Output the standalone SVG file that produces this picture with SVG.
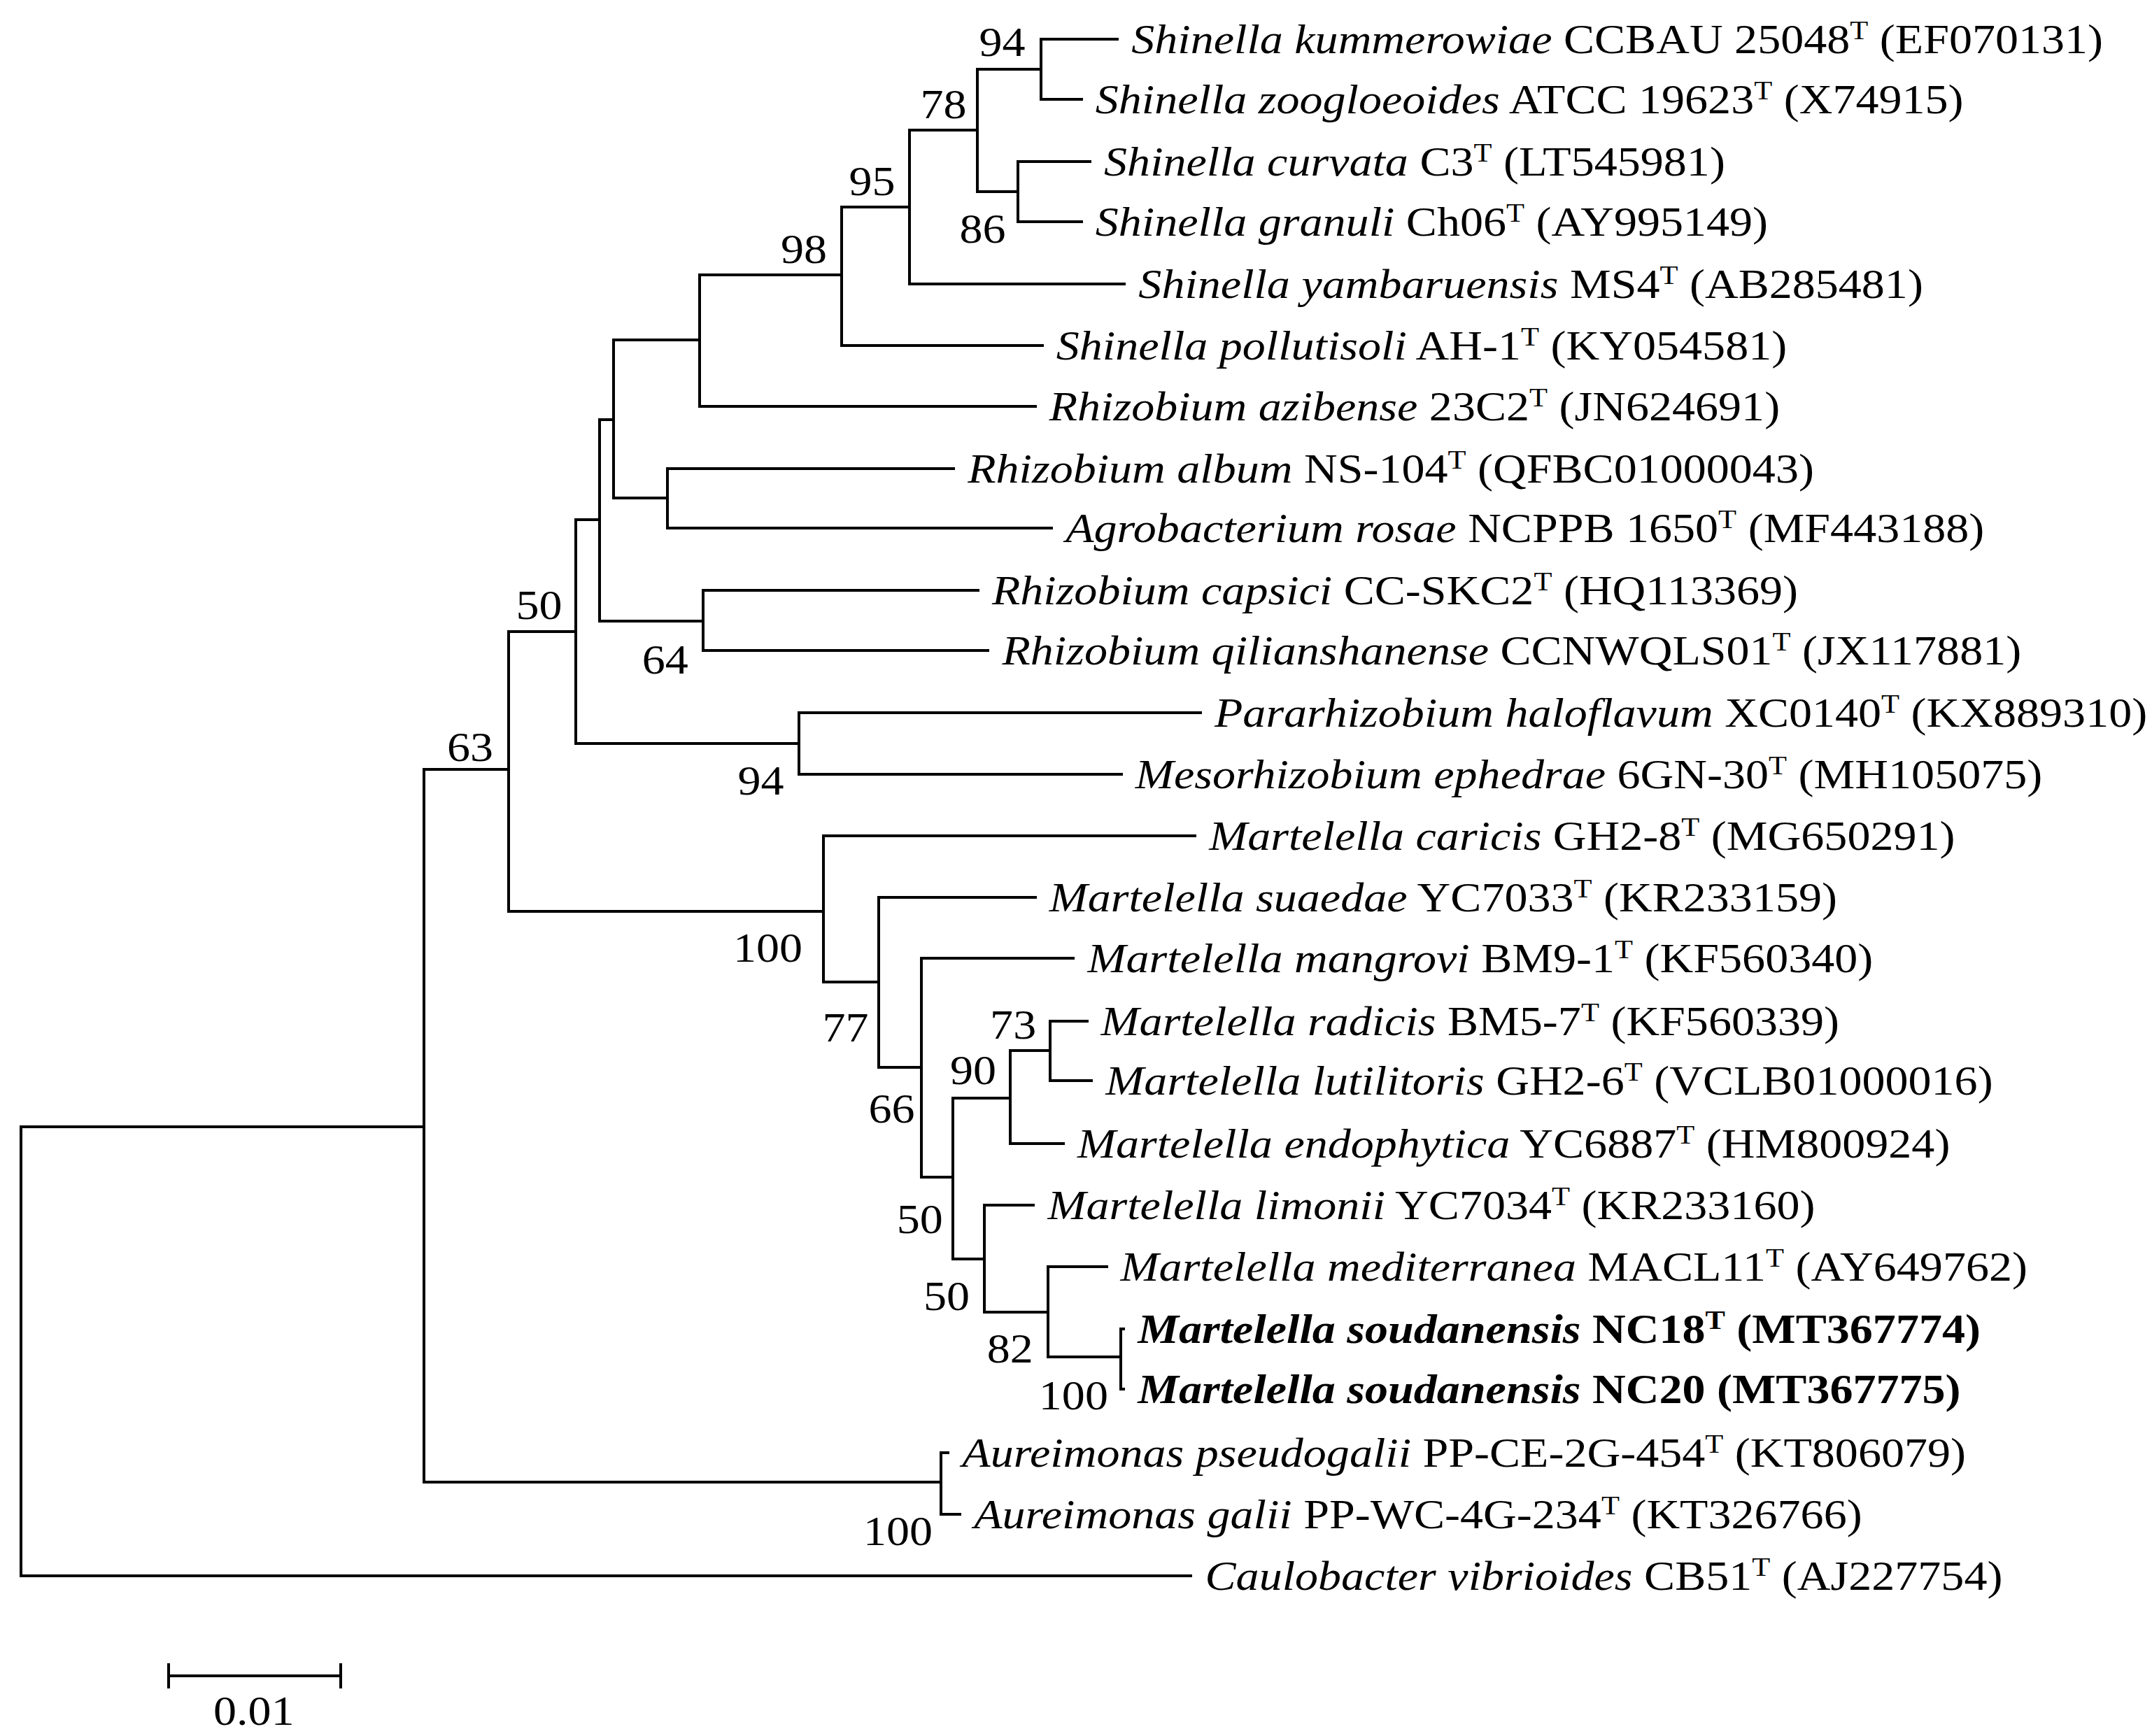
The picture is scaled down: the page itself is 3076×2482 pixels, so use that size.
<svg xmlns="http://www.w3.org/2000/svg" width="3076" height="2482" viewBox="0 0 3076 2482">
<style>
.b{fill:none;stroke:#000;stroke-width:4;stroke-linecap:square}
text{font-family:"Liberation Serif","Times New Roman",serif;font-size:59px;fill:#000}
.i{font-style:italic}
.bd{font-weight:bold}
.s{font-size:38px}
.m{text-anchor:middle}
</style>
<rect width="3076" height="2482" fill="#fff"/>
<g id="connectors">
<path class="b" d="M30,1611V2253H1702M30,1611H606M606,1100V2119M606,1100H727M606,2119H1345M1345,2077V2165M1345,2077H1355M1345,2165H1372
M727,903V1303M727,903H823M727,1303H1177
M823,743V1063M823,743H857M823,1063H1142M1142,1019V1107M1142,1019H1716M1142,1107H1603
M857,600V888M857,600H877M857,888H1005M1005,844V930M1005,844H1398M1005,930H1412
M877,486V712M877,486H1000M877,712H954M954,670V755M954,670H1363M954,755H1503
M1000,393V581M1000,393H1203M1000,581H1480
M1203,296V494M1203,296H1300M1203,494H1490
M1300,186V406M1300,186H1397M1300,406H1607
M1397,99V274M1397,99H1488M1397,274H1455
M1488,56V142M1488,56H1597M1488,142H1546
M1455,231V317M1455,231H1558M1455,317H1546
M1177,1195V1404M1177,1195H1708M1177,1404H1256
M1256,1283V1526M1256,1283H1480M1256,1526H1317
M1317,1370V1683M1317,1370H1534M1317,1683H1362
M1362,1570V1800M1362,1570H1444M1362,1800H1407
M1444,1502V1635M1444,1502H1501M1444,1635H1520
M1501,1460V1545M1501,1460H1554M1501,1545H1560
M1407,1723V1876M1407,1723H1477M1407,1876H1498
M1498,1811V1940M1498,1811H1582M1498,1940H1602
M1602,1900V1986M1602,1900H1606M1602,1986H1606
M241,2396H487M241,2380V2412M487,2380V2412"/>
</g>
<g transform="scale(1.12,1)">
<g id="leaves">
<text x="1444" y="76"><tspan class="i">Shinella kummerowiae</tspan> CCBAU 25048<tspan class="s" dy="-20">T</tspan><tspan dy="20"> (EF070131)</tspan></text>
<text x="1398" y="162"><tspan class="i">Shinella zoogloeoides</tspan> ATCC 19623<tspan class="s" dy="-20">T</tspan><tspan dy="20"> (X74915)</tspan></text>
<text x="1409" y="251"><tspan class="i">Shinella curvata</tspan> C3<tspan class="s" dy="-20">T</tspan><tspan dy="20"> (LT545981)</tspan></text>
<text x="1398" y="337"><tspan class="i">Shinella granuli</tspan> Ch06<tspan class="s" dy="-20">T</tspan><tspan dy="20"> (AY995149)</tspan></text>
<text x="1453" y="426"><tspan class="i">Shinella yambaruensis</tspan> MS4<tspan class="s" dy="-20">T</tspan><tspan dy="20"> (AB285481)</tspan></text>
<text x="1348" y="514"><tspan class="i">Shinella pollutisoli</tspan> AH-1<tspan class="s" dy="-20">T</tspan><tspan dy="20"> (KY054581)</tspan></text>
<text x="1339" y="601"><tspan class="i">Rhizobium azibense</tspan> 23C2<tspan class="s" dy="-20">T</tspan><tspan dy="20"> (JN624691)</tspan></text>
<text x="1235" y="690"><tspan class="i">Rhizobium album</tspan> NS-104<tspan class="s" dy="-20">T</tspan><tspan dy="20"> (QFBC01000043)</tspan></text>
<text x="1360" y="775"><tspan class="i">Agrobacterium rosae</tspan> NCPPB 1650<tspan class="s" dy="-20">T</tspan><tspan dy="20"> (MF443188)</tspan></text>
<text x="1266" y="864"><tspan class="i">Rhizobium capsici</tspan> CC-SKC2<tspan class="s" dy="-20">T</tspan><tspan dy="20"> (HQ113369)</tspan></text>
<text x="1279" y="950"><tspan class="i">Rhizobium qilianshanense</tspan> CCNWQLS01<tspan class="s" dy="-20">T</tspan><tspan dy="20"> (JX117881)</tspan></text>
<text x="1550" y="1039"><tspan class="i">Pararhizobium haloflavum</tspan> XC0140<tspan class="s" dy="-20">T</tspan><tspan dy="20"> (KX889310)</tspan></text>
<text x="1449" y="1127"><tspan class="i">Mesorhizobium ephedrae</tspan> 6GN-30<tspan class="s" dy="-20">T</tspan><tspan dy="20"> (MH105075)</tspan></text>
<text x="1543" y="1215"><tspan class="i">Martelella caricis</tspan> GH2-8<tspan class="s" dy="-20">T</tspan><tspan dy="20"> (MG650291)</tspan></text>
<text x="1339" y="1303"><tspan class="i">Martelella suaedae</tspan> YC7033<tspan class="s" dy="-20">T</tspan><tspan dy="20"> (KR233159)</tspan></text>
<text x="1388" y="1390"><tspan class="i">Martelella mangrovi</tspan> BM9-1<tspan class="s" dy="-20">T</tspan><tspan dy="20"> (KF560340)</tspan></text>
<text x="1405" y="1480"><tspan class="i">Martelella radicis</tspan> BM5-7<tspan class="s" dy="-20">T</tspan><tspan dy="20"> (KF560339)</tspan></text>
<text x="1411" y="1565"><tspan class="i">Martelella lutilitoris</tspan> GH2-6<tspan class="s" dy="-20">T</tspan><tspan dy="20"> (VCLB01000016)</tspan></text>
<text x="1375" y="1655"><tspan class="i">Martelella endophytica</tspan> YC6887<tspan class="s" dy="-20">T</tspan><tspan dy="20"> (HM800924)</tspan></text>
<text x="1337" y="1743"><tspan class="i">Martelella limonii</tspan> YC7034<tspan class="s" dy="-20">T</tspan><tspan dy="20"> (KR233160)</tspan></text>
<text x="1430" y="1831"><tspan class="i">Martelella mediterranea</tspan> MACL11<tspan class="s" dy="-20">T</tspan><tspan dy="20"> (AY649762)</tspan></text>
<text x="1452" y="1920" class="bd"><tspan class="i">Martelella soudanensis</tspan> NC18<tspan class="s" dy="-20">T</tspan><tspan dy="20"> (MT367774)</tspan></text>
<text x="1452" y="2006" class="bd"><tspan class="i">Martelella soudanensis</tspan> NC20 (MT367775)</text>
<text x="1228" y="2097"><tspan class="i">Aureimonas pseudogalii</tspan> PP-CE-2G-454<tspan class="s" dy="-20">T</tspan><tspan dy="20"> (KT806079)</tspan></text>
<text x="1243" y="2185"><tspan class="i">Aureimonas galii</tspan> PP-WC-4G-234<tspan class="s" dy="-20">T</tspan><tspan dy="20"> (KT326766)</tspan></text>
<text x="1538" y="2273"><tspan class="i">Caulobacter vibrioides</tspan> CB51<tspan class="s" dy="-20">T</tspan><tspan dy="20"> (AJ227754)</tspan></text>
</g>
<g id="bootstrap" class="m">
<text class="m" x="1279" y="80">94</text>
<text class="m" x="1204" y="169">78</text>
<text class="m" x="1254" y="347">86</text>
<text class="m" x="1113" y="279">95</text>
<text class="m" x="1026" y="376">98</text>
<text class="m" x="688" y="885">50</text>
<text class="m" x="849" y="963">64</text>
<text class="m" x="971" y="1136">94</text>
<text class="m" x="600" y="1088">63</text>
<text class="m" x="980" y="1375">100</text>
<text class="m" x="1079" y="1489">77</text>
<text class="m" x="1138" y="1605">66</text>
<text class="m" x="1174" y="1763">50</text>
<text class="m" x="1293" y="1485">73</text>
<text class="m" x="1242" y="1550">90</text>
<text class="m" x="1208" y="1873">50</text>
<text class="m" x="1289" y="1948">82</text>
<text class="m" x="1370" y="2015">100</text>
<text class="m" x="1146" y="2209">100</text>
</g>
<text id="scale" class="m" x="324" y="2466">0.01</text>
</g>
</svg>
